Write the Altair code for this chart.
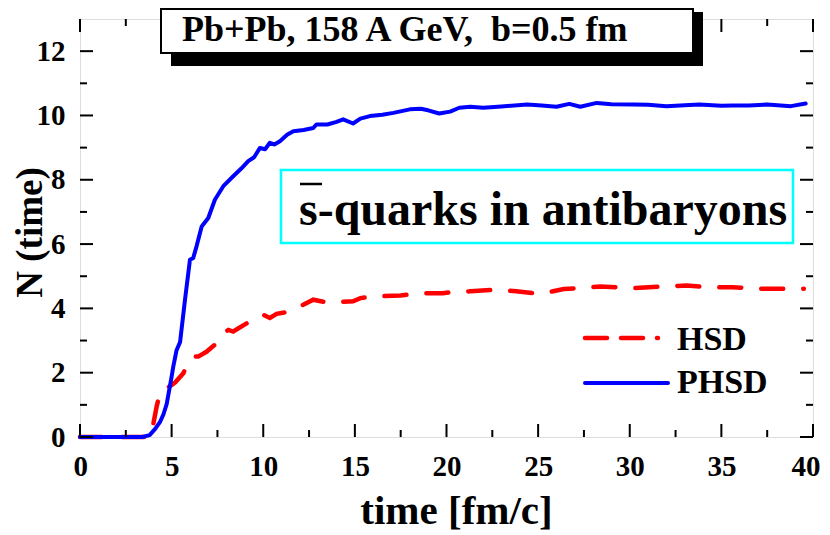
import altair as alt
import pandas as pd

# ---- data ----
phsd_t = [0, 3.4, 3.8, 4.1, 4.36, 4.55, 4.73, 5.0, 5.09, 5.27, 5.46, 5.73, 6.0, 6.18, 6.36,
          6.64, 7.0, 7.36, 7.82, 8.36, 8.8, 9.18, 9.5, 9.82, 10.1, 10.36, 10.6, 10.91, 11.3,
          11.64, 12.2, 12.73, 12.9, 13.5, 14.0, 14.36, 14.9, 15.3, 15.82, 16.5, 17.1, 18.0,
          18.6, 19.0, 19.6, 20.2, 20.7, 21.3, 22.0, 23.0, 24.4, 25.2, 26.0, 26.7, 27.3, 28.2,
          29.0, 30.2, 31.0, 32.0, 33.0, 33.8, 35.0, 35.6, 36.5, 37.5, 38.8, 39.6]
phsd_n = [0, 0, 0.06, 0.25, 0.46, 0.7, 1.02, 1.88, 2.19, 2.7, 2.95, 4.27, 5.51, 5.57, 5.93,
          6.55, 6.81, 7.38, 7.8, 8.11, 8.35, 8.58, 8.7, 8.99, 8.95, 9.15, 9.1, 9.2, 9.4,
          9.51, 9.55, 9.61, 9.72, 9.72, 9.8, 9.88, 9.75, 9.9, 9.98, 10.02, 10.08, 10.19,
          10.21, 10.16, 10.06, 10.12, 10.24, 10.27, 10.24, 10.28, 10.34, 10.31, 10.27, 10.36,
          10.27, 10.39, 10.35, 10.34, 10.33, 10.29, 10.32, 10.34, 10.3, 10.31, 10.31, 10.34,
          10.29, 10.37]

hsd_t = [0, 3.8, 4.0, 4.18, 4.36, 4.6, 4.73, 5.2, 5.64, 5.82, 6.18, 6.45, 6.9, 7.36, 7.82,
         8.1, 8.36, 9.0, 9.55, 10.0, 10.36, 10.73, 11.4, 12.18, 12.73, 13.45, 14.2, 14.9,
         15.3, 16.0, 17.5, 18.5, 19.8, 20.2, 21.3, 22.7, 23.8, 25.1, 26.4, 28.4, 30.2, 31.8,
         33.1, 34.2, 35.6, 37.1, 39.5]
hsd_n = [0, 0, 0.4, 0.94, 1.36, 1.42, 1.51, 1.7, 1.98, 2.24, 2.5, 2.5, 2.65, 2.87, 3.23,
         3.33, 3.28, 3.5, 3.70, 3.80, 3.70, 3.83, 3.9, 4.11, 4.27, 4.19, 4.2, 4.22, 4.32,
         4.37, 4.40, 4.47, 4.47, 4.5, 4.53, 4.58, 4.53, 4.45, 4.6, 4.68, 4.63, 4.68, 4.71,
         4.66, 4.66, 4.61, 4.61]

x_major = [0, 5, 10, 15, 20, 25, 30, 35, 40]
x_minor = [2.5, 7.5, 12.5, 17.5, 22.5, 27.5, 32.5, 37.5]
y_major = [0, 2, 4, 6, 8, 10, 12]
y_minor = [1, 3, 5, 7, 9, 11]

title_text = "Pb+Pb, 158 A GeV, \u00a0b=0.5 fm"
box_text = "s-quarks in antibaryons"
legend_names = ["HSD", "PHSD"]

FONT = "Liberation Serif"
W, H = 733, 418

xscale = alt.Scale(domain=[0, 40], nice=False, zero=False)
yscale = alt.Scale(domain=[0, 13], nice=False, zero=False)

xaxis = alt.Axis(values=x_major, ticks=False, domain=False, grid=False,
                 labelFont=FONT, labelFontSize=29, labelFontWeight="bold",
                 labelColor="black", labelPadding=15,
                 labelFlush=True, labelFlushOffset=7,
                 title="time [fm/c]", titleFont=FONT, titleFontSize=41,
                 titleFontWeight="bold", titleColor="black",
                 titleX=376, titleY=86, titleAlign="center", titleBaseline="alphabetic")
yaxis = alt.Axis(values=y_major, ticks=False, domain=False, grid=False,
                 labelFont=FONT, labelFontSize=29, labelFontWeight="bold",
                 labelColor="black", labelPadding=15, labelFlush=False,
                 title="N (time)", titleFont=FONT, titleFontSize=37,
                 titleFontWeight="bold", titleColor="black",
                 titleX=-39, titleY=213, titleAlign="center", titleBaseline="alphabetic",
                 titleAngle=270)

phsd_df = pd.DataFrame({"t": phsd_t, "N": phsd_n})
hsd_df = pd.DataFrame({"t": hsd_t, "N": hsd_n})

hsd_line = alt.Chart(hsd_df).mark_line(
    color="#ff0000", strokeWidth=4.5, strokeDash=[22, 20], strokeCap="round",
    interpolate="linear"
).encode(x=alt.X("t:Q", scale=xscale, axis=xaxis),
         y=alt.Y("N:Q", scale=yscale, axis=yaxis))

phsd_line = alt.Chart(phsd_df).mark_line(
    color="#0000ff", strokeWidth=4, strokeCap="round", strokeJoin="round"
).encode(x=alt.X("t:Q", scale=xscale, axis=xaxis),
         y=alt.Y("N:Q", scale=yscale, axis=yaxis))

# inward ticks on all four sides
def xticks(vals, length, bottom=True):
    df = pd.DataFrame({"v": vals})
    y0 = H if bottom else 0
    y1 = H - length if bottom else length
    return alt.Chart(df).mark_rule(color="black", strokeWidth=2).encode(
        x=alt.X("v:Q", scale=xscale, axis=xaxis),
        y=alt.value(y0), y2=alt.value(y1))

def yticks(vals, length, left=True):
    df = pd.DataFrame({"v": vals})
    x0 = 0 if left else W
    x1 = length if left else W - length
    return alt.Chart(df).mark_rule(color="black", strokeWidth=2).encode(
        y=alt.Y("v:Q", scale=yscale, axis=yaxis),
        x=alt.value(x0), x2=alt.value(x1))

ticks = [xticks(x_major, 13, True), xticks(x_minor, 7, True),
         xticks(x_major, 13, False), xticks(x_minor, 7, False),
         yticks(y_major, 13, True), yticks(y_minor, 7, True),
         yticks(y_major, 13, False), yticks(y_minor, 7, False)]

one = pd.DataFrame({"label": [title_text]})

# title box with shadow
shadow = alt.Chart(one).mark_rect(color="black").encode(
    x=alt.value(91), x2=alt.value(623), y=alt.value(-7), y2=alt.value(47))
tbox = alt.Chart(one).mark_rect(fill="white", stroke="black", strokeWidth=2).encode(
    x=alt.value(81), x2=alt.value(613), y=alt.value(-10), y2=alt.value(34))
ttext = alt.Chart(one).mark_text(font=FONT, fontSize=36, fontWeight="bold", color="black",
                                 align="left", baseline="alphabetic").encode(
    x=alt.value(102), y=alt.value(22), text="label:N")

# annotation box
ann_df = pd.DataFrame({"label": [box_text]})
abox = alt.Chart(ann_df).mark_rect(fill="white", stroke="#00ffff", strokeWidth=2.5).encode(
    x=alt.value(201), x2=alt.value(713), y=alt.value(151), y2=alt.value(224))
atext = alt.Chart(ann_df).mark_text(font=FONT, fontSize=48, fontWeight="bold", color="black",
                                    align="left", baseline="alphabetic").encode(
    x=alt.value(219), y=alt.value(206), text="label:N")
abar = alt.Chart(ann_df).mark_rule(color="black", strokeWidth=2.5).encode(
    x=alt.value(220), x2=alt.value(242), y=alt.value(165))

# legend
leg_df = pd.DataFrame({"label": legend_names})
leg_red = alt.Chart(leg_df.iloc[[0]]).mark_rule(
    color="#ff0000", strokeWidth=4.5, strokeDash=[22, 14], strokeCap="round").encode(
    x=alt.value(505), x2=alt.value(578), y=alt.value(319))
leg_blue = alt.Chart(leg_df.iloc[[1]]).mark_rule(
    color="#0000ff", strokeWidth=4, strokeCap="round").encode(
    x=alt.value(505), x2=alt.value(588), y=alt.value(364))
leg_t1 = alt.Chart(leg_df.iloc[[0]]).mark_text(
    font=FONT, fontSize=34, fontWeight="bold", color="black",
    align="left", baseline="alphabetic").encode(
    x=alt.value(597), y=alt.value(331), text="label:N")
leg_t2 = alt.Chart(leg_df.iloc[[1]]).mark_text(
    font=FONT, fontSize=34, fontWeight="bold", color="black",
    align="left", baseline="alphabetic").encode(
    x=alt.value(597), y=alt.value(374), text="label:N")

chart = alt.layer(
    hsd_line, phsd_line, *ticks, abox, atext, abar,
    leg_red, leg_blue, leg_t1, leg_t2, shadow, tbox, ttext
).properties(
    width=W, height=H,
    autosize=alt.AutoSizeParams(type="none"),
    padding={"left": 72, "top": 11, "right": 8, "bottom": 96},
).configure_view(stroke="black", strokeWidth=2.5).configure(background="white")

chart.save("out.html", embed_options={"renderer": "svg", "actions": False})
